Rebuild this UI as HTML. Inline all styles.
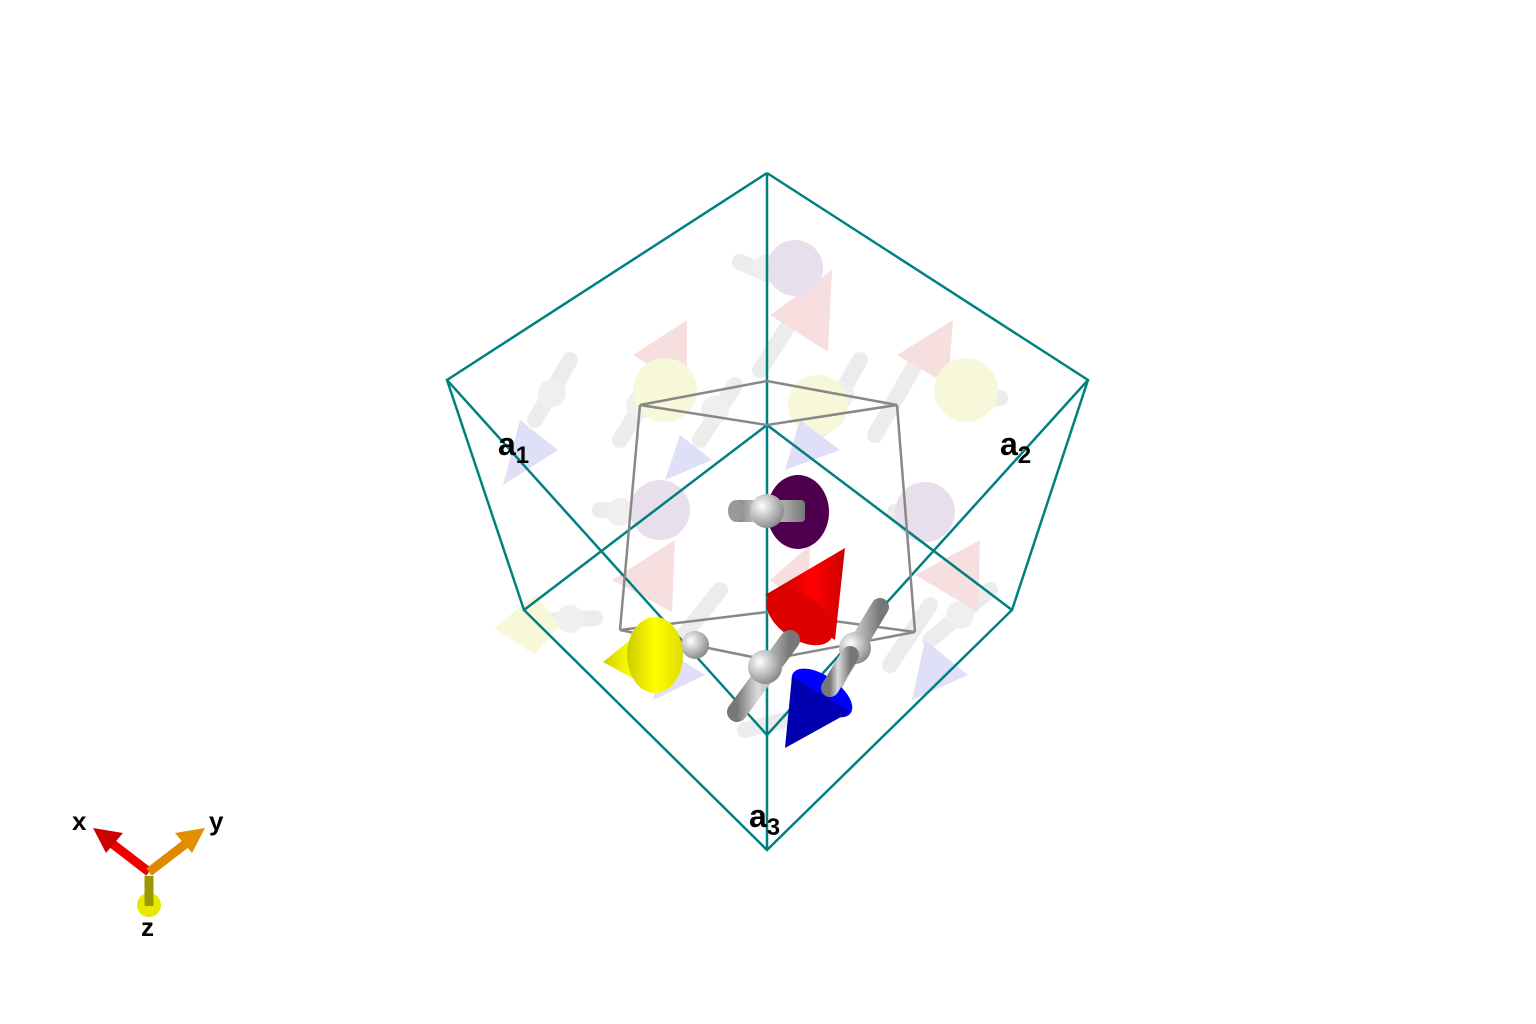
<!DOCTYPE html>
<html><head><meta charset="utf-8"><style>
html,body{margin:0;padding:0;background:#fff;}
svg{display:block;font-family:"Liberation Sans",sans-serif;}
</style></head><body>
<svg width="1536" height="1024" viewBox="0 0 1536 1024">
<defs>
<radialGradient id="ball" cx="0.35" cy="0.35" r="0.7"><stop offset="0" stop-color="#fff"/><stop offset="1" stop-color="#888"/></radialGradient>
<linearGradient id="rod" x1="0" y1="0" x2="1" y2="0"><stop offset="0" stop-color="#777"/><stop offset="0.4" stop-color="#ddd"/><stop offset="1" stop-color="#777"/></linearGradient>
<linearGradient id="red" x1="0" y1="0" x2="1" y2="0"><stop offset="0" stop-color="#b00"/><stop offset="0.6" stop-color="#f00"/><stop offset="1" stop-color="#c00"/></linearGradient>
<linearGradient id="yel" x1="0" y1="0" x2="1" y2="0"><stop offset="0" stop-color="#cc0"/><stop offset="0.5" stop-color="#ff0"/><stop offset="1" stop-color="#dd0"/></linearGradient>
</defs>

<g opacity="0.22">
  <g stroke="#aaa" stroke-width="16" stroke-linecap="round">
    <line x1="535" y1="420" x2="570" y2="360"/><line x1="620" y1="440" x2="660" y2="375"/>
    <line x1="700" y1="440" x2="735" y2="385"/><line x1="760" y1="370" x2="795" y2="315"/>
    <line x1="820" y1="430" x2="860" y2="360"/><line x1="875" y1="435" x2="915" y2="365"/>
    <line x1="740" y1="262" x2="770" y2="275"/><line x1="965" y1="395" x2="1000" y2="398"/>
    <line x1="600" y1="510" x2="640" y2="512"/><line x1="895" y1="512" x2="930" y2="512"/>
    <line x1="555" y1="620" x2="595" y2="618"/><line x1="680" y1="640" x2="720" y2="590"/>
    <line x1="890" y1="665" x2="930" y2="605"/><line x1="930" y1="640" x2="990" y2="590"/>
    <line x1="745" y1="730" x2="785" y2="720"/>
  </g>
  <g fill="#bbb"><circle cx="552" cy="393" r="14"/><circle cx="640" cy="405" r="14"/><circle cx="715" cy="410" r="14"/><circle cx="767" cy="268" r="14"/><circle cx="840" cy="395" r="14"/><circle cx="985" cy="397" r="14"/><circle cx="620" cy="512" r="14"/><circle cx="910" cy="512" r="14"/><circle cx="570" cy="619" r="14"/><circle cx="960" cy="615" r="14"/></g>
  <g fill="#e07070"><polygon points="633,355 687,320 687,390"/><polygon points="770,315 832,270 828,352"/><polygon points="897,355 953,320 948,385"/><polygon points="612,580 675,540 672,612"/><polygon points="770,580 810,545 808,610"/><polygon points="915,575 980,540 978,612"/></g>
  <g fill="#dddd55"><circle cx="665" cy="390" r="32"/><circle cx="818" cy="405" r="30"/><circle cx="966" cy="390" r="32"/><polygon points="494,628 535,595 560,625 535,655"/></g>
  <g fill="#7070e0"><polygon points="503,485 520,420 558,450"/><polygon points="665,480 680,435 712,460"/><polygon points="785,470 800,420 840,450"/><polygon points="653,700 665,650 705,675"/><polygon points="912,700 925,640 968,675"/></g>
  <g fill="#9a70b0"><circle cx="660" cy="510" r="30"/><circle cx="925" cy="512" r="30"/><circle cx="795" cy="268" r="28"/></g>
</g>

<g stroke="#008080" stroke-width="2.5" fill="none">
  <polyline points="767,173 447,380 524,610 767,850 1012,610 1088,380 767,173"/>
  <line x1="767" y1="173" x2="767" y2="850"/>
  <line x1="524" y1="610" x2="767" y2="425"/><line x1="1012" y1="610" x2="767" y2="425"/>
  <line x1="447" y1="380" x2="767" y2="735"/><line x1="1088" y1="380" x2="767" y2="735"/>
</g>
<g stroke="#888" stroke-width="2.5" fill="none">
  <polygon points="767,381 640,405 767,425 897,405"/>
  <polygon points="620,630 767,612 915,632 767,660"/>
  <line x1="640" y1="405" x2="620" y2="630"/><line x1="897" y1="405" x2="915" y2="632"/>
</g>

<g>
  <ellipse cx="798" cy="512" rx="31" ry="37" fill="#4e004e"/>
  <rect x="735" y="500" width="70" height="22" rx="4" fill="url(#rod)"/>
  <ellipse cx="736" cy="511" rx="8" ry="11" fill="#999"/>
  <circle cx="767" cy="511" r="17" fill="url(#ball)"/>
</g>
<g>
  <polygon points="845,548 765,595 835,640" fill="url(#red)"/>
  <ellipse cx="800" cy="617" rx="38" ry="22" transform="rotate(35 800 617)" fill="#d00"/>
</g>
<g>
  <line x1="737" y1="712" x2="790" y2="640" stroke="url(#rod)" stroke-width="20" stroke-linecap="round"/>
  <line x1="830" y1="690" x2="880" y2="607" stroke="url(#rod)" stroke-width="18" stroke-linecap="round"/>
  <circle cx="765" cy="667" r="17" fill="url(#ball)"/>
  <circle cx="855" cy="648" r="16" fill="url(#ball)"/>
  <line x1="690" y1="642" x2="715" y2="642" stroke="url(#rod)" stroke-width="18"/>
  <circle cx="695" cy="645" r="14" fill="url(#ball)"/>
</g>
<g>
  <polygon points="603,662 655,620 658,692" fill="url(#yel)"/>
  <ellipse cx="655" cy="655" rx="28" ry="38" fill="url(#yel)"/>
</g>
<g>
  <ellipse cx="822" cy="693" rx="35" ry="17" transform="rotate(35 822 693)" fill="#00f"/>
  <polygon points="785,748 792,676 850,712" fill="#0000b0"/>
  <line x1="830" y1="688" x2="850" y2="655" stroke="url(#rod)" stroke-width="18" stroke-linecap="round"/>
</g>

<g font-weight="bold" fill="#000">
  <text x="498" y="455" font-size="32">a<tspan font-size="24" dy="8">1</tspan></text>
  <text x="1000" y="455" font-size="32">a<tspan font-size="24" dy="8">2</tspan></text>
  <text x="749" y="827" font-size="32">a<tspan font-size="24" dy="8">3</tspan></text>
</g>

<g>
  <circle cx="149" cy="905" r="12" fill="#e8e800"/>
  <line x1="149" y1="876" x2="149" y2="906" stroke="#9a9a00" stroke-width="9"/>
  <line x1="149" y1="872" x2="110" y2="842" stroke="#e00" stroke-width="9"/>
  <polygon points="93,828 123,833 106,853" fill="#c00"/>
  <line x1="149" y1="872" x2="188" y2="842" stroke="#e08800" stroke-width="9"/>
  <polygon points="205,828 175,833 192,853" fill="#e09000"/>
  <text x="72" y="830" font-size="26" font-weight="bold">x</text>
  <text x="209" y="830" font-size="26" font-weight="bold">y</text>
  <text x="141" y="936" font-size="26" font-weight="bold">z</text>
</g>
</svg>
</body></html>
